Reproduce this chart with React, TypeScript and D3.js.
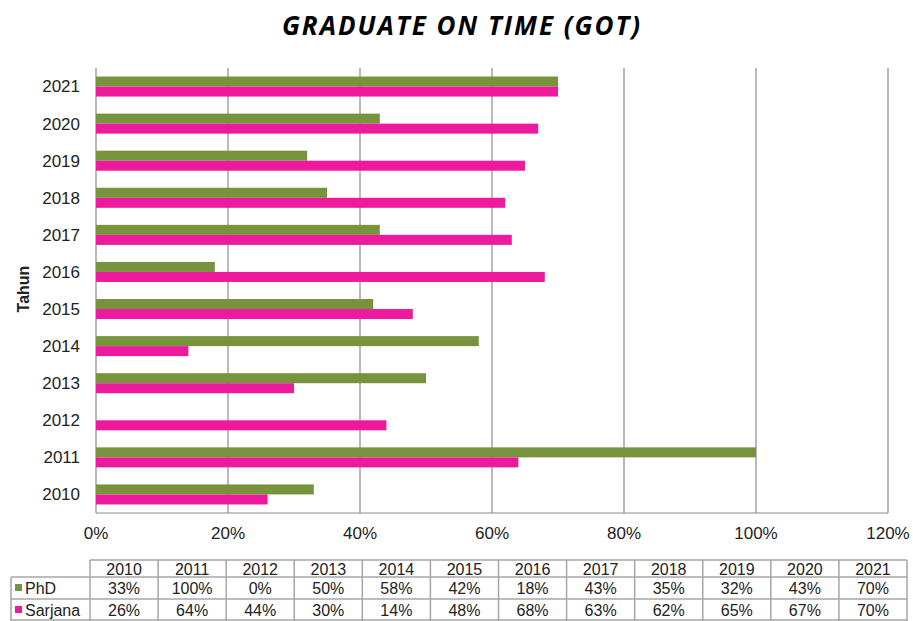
import React from "react";
import * as d3 from "d3";

const years = ["2010","2011","2012","2013","2014","2015","2016","2017","2018","2019","2020","2021"];
const phd = [33, 100, 0, 50, 58, 42, 18, 43, 35, 32, 43, 70];
const sarjana = [26, 64, 44, 30, 14, 48, 68, 63, 62, 65, 67, 70];
const seriesNames = ["PhD", "Sarjana"];
const seriesColors = ["#77933C", "#EE1A9E"];
const xTicks = [0, 20, 40, 60, 80, 100, 120];
const title = "GRADUATE ON TIME (GOT)";
const yAxisTitle = "Tahun";

export default function App() {
  const W = 913, H = 621;
  const left = 96, right = 888, top = 68, bottom = 513;
  const x = d3.scaleLinear().domain([0, 120]).range([left, right]);
  const y0 = d3.scaleBand<string>().domain([...years].reverse()).range([top, bottom]).paddingInner(0.46).paddingOuter(0.23);
  const y1 = d3.scaleBand<string>().domain(seriesNames).range([0, y0.bandwidth()]);
  const data = [phd, sarjana];
  const tx = d3.scaleBand<string>().domain(years).range([90, 907]);
  const tableLeft = 11;
  const rowY = [560, 577, 599, 621];
  const font = "'Liberation Sans', Arial, sans-serif";
  const grid = "#8c8c8c";
  const tline = "#a6a6a6";

  return (
    <svg width={W} height={H} style={{ position: "absolute", left: 0, top: 0, background: "#fff" }} fontFamily={font}>
      <rect width={W} height={H} fill="#fff" />
      <text x={462} y={35} textAnchor="middle" fontFamily="'Open Sans', Lato, sans-serif" fontWeight="bold" fontStyle="italic" fontSize={26} letterSpacing={2} fill="#000">{title}</text>

      {xTicks.map((t) => (
        <line key={"g" + t} x1={x(t)} x2={x(t)} y1={top} y2={bottom} stroke={grid} strokeWidth={1.2} />
      ))}
      <line x1={left} x2={right} y1={bottom} y2={bottom} stroke={grid} strokeWidth={1.2} />

      {years.map((yr, i) =>
        data.map((vals, s) => (
          vals[i] > 0 ? (
            <rect key={yr + s} x={x(0)} y={(y0(yr) as number) + (y1(seriesNames[s]) as number)} width={x(vals[i]) - x(0)} height={y1.bandwidth()} fill={seriesColors[s]} />
          ) : null
        ))
      )}

      {years.map((yr) => (
        <text key={"yl" + yr} x={80} y={(y0(yr) as number) + y0.bandwidth() / 2} dy="0.35em" textAnchor="end" fontSize={17} fill="#222">{yr}</text>
      ))}
      <text transform={`translate(29,289) rotate(-90)`} textAnchor="middle" fontSize={16} fontWeight="bold" fill="#222">{yAxisTitle}</text>

      {xTicks.map((t) => (
        <text key={"xl" + t} x={x(t)} y={533} dy="0.35em" textAnchor="middle" fontSize={17} fill="#222">{t + "%"}</text>
      ))}

      {/* data table */}
      <line x1={90} x2={907} y1={rowY[0]} y2={rowY[0]} stroke={tline} strokeWidth={1.5} />
      <line x1={tableLeft} x2={907} y1={rowY[1]} y2={rowY[1]} stroke={tline} strokeWidth={1.5} />
      <line x1={tableLeft} x2={907} y1={rowY[2]} y2={rowY[2]} stroke={tline} strokeWidth={1.5} />
      <line x1={tableLeft} x2={907} y1={rowY[3] - 1} y2={rowY[3] - 1} stroke={tline} strokeWidth={1.5} />
      <line x1={tableLeft} x2={tableLeft} y1={rowY[1]} y2={rowY[3]} stroke={tline} strokeWidth={1.5} />
      {years.map((yr) => (
        <line key={"tv" + yr} x1={tx(yr) as number} x2={tx(yr) as number} y1={rowY[0]} y2={rowY[3]} stroke={tline} strokeWidth={1.5} />
      ))}
      <line x1={907} x2={907} y1={rowY[0]} y2={rowY[3]} stroke={tline} strokeWidth={1.5} />
      {years.map((yr) => (
        <text key={"th" + yr} x={(tx(yr) as number) + tx.bandwidth() / 2} y={(rowY[0] + rowY[1]) / 2 + 0.5} dy="0.35em" textAnchor="middle" fontSize={16} fill="#222">{yr}</text>
      ))}
      {data.map((vals, s) => (
        <g key={"row" + s}>
          <rect x={15} y={(rowY[s + 1] + rowY[s + 2]) / 2 - 4} width={7} height={7} fill={seriesColors[s]} />
          <text x={25} y={(rowY[s + 1] + rowY[s + 2]) / 2} dy="0.35em" fontSize={16} fill="#222">{seriesNames[s]}</text>
          {years.map((yr, i) => (
            <text key={"tc" + s + yr} x={(tx(yr) as number) + tx.bandwidth() / 2} y={(rowY[s + 1] + rowY[s + 2]) / 2} dy="0.35em" textAnchor="middle" fontSize={16} fill="#222">{vals[i] + "%"}</text>
          ))}
        </g>
      ))}
    </svg>
  );
}
